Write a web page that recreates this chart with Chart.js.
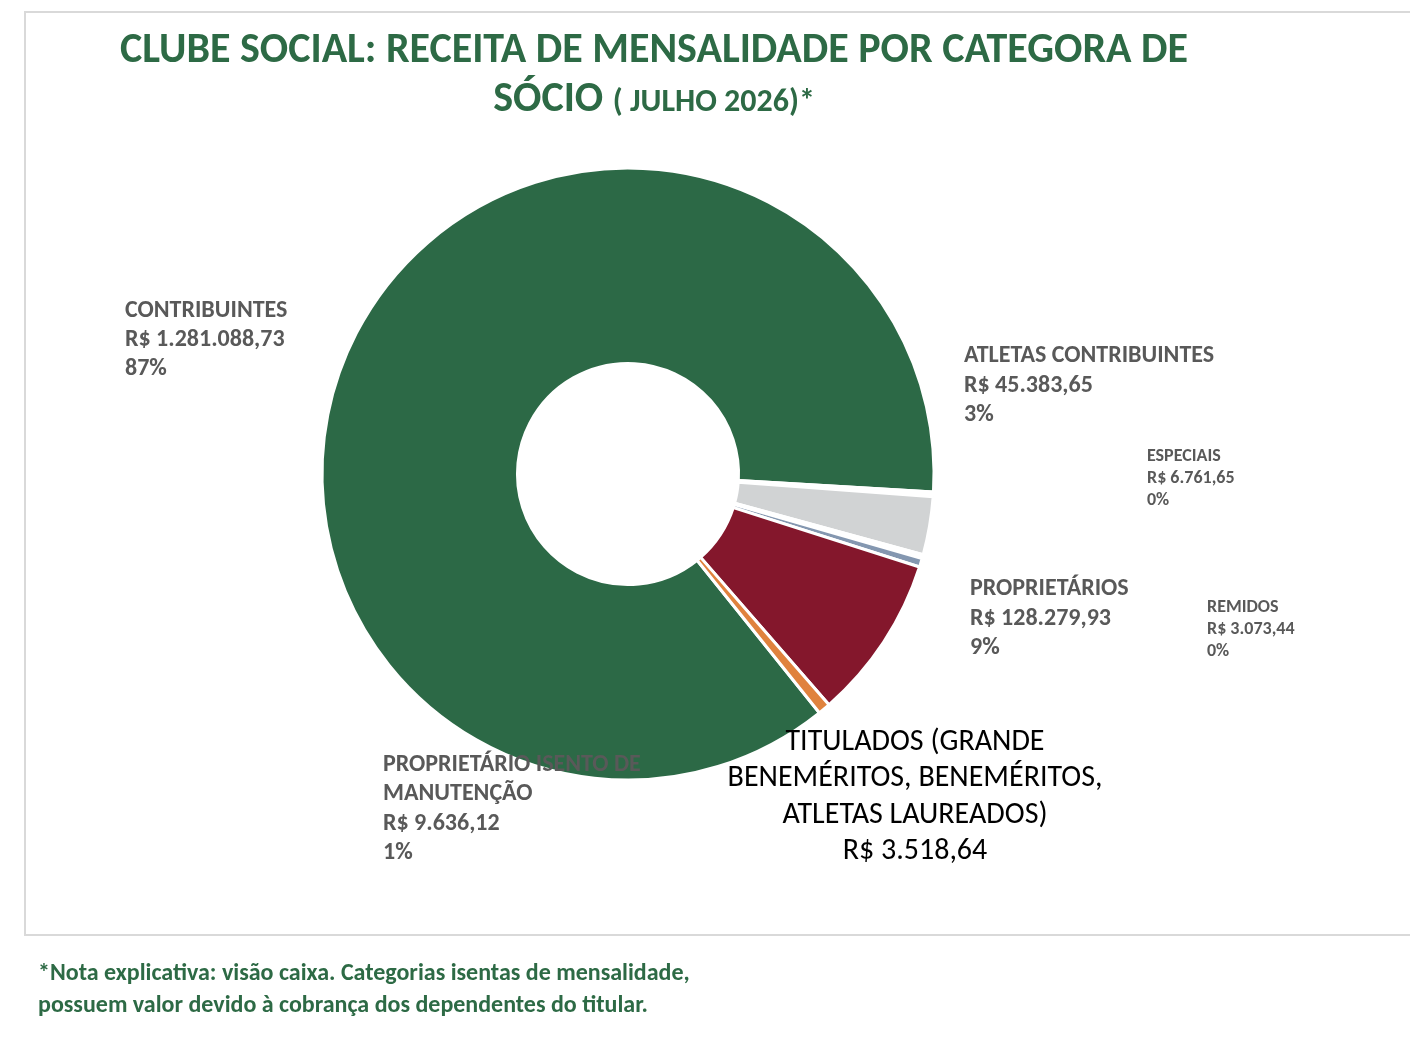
<!DOCTYPE html>
<html lang="pt-BR">
<head>
<meta charset="utf-8">
<title>Receita de mensalidade por categoria de sócio</title>
<script src="https://cdn.jsdelivr.net/npm/chart.js@4.4.1/dist/chart.umd.min.js"></script>
<style>
  html, body { margin: 0; padding: 0; background: #fff; }
  body { width: 1410px; height: 1058px; position: relative; overflow: hidden;
         font-family: "Carlito", "Lato", sans-serif; }
  #box { position: absolute; left: 24px; top: 11px; width: 1400px; height: 921px;
         border: 2px solid #d9d9d9; }
  #chart { position: absolute; left: 0; top: 0; }
  .titulo { position: absolute; left: 0; width: 1308px; text-align: center;
            color: #2d6a45; font-weight: bold; white-space: nowrap; }
  #t1 { top: 24px; font-size: 42px; line-height: 48px; }
  #t2 { top: 73px; font-size: 42px; line-height: 48px; }
  #t2 small { font-size: 32px; }
  #nota { position: absolute; left: 38px; top: 956px; color: #2d6a45; font-weight: bold;
          font-size: 24px; line-height: 32px; }
</style>
</head>
<body>
<div id="box"></div>
<canvas id="chart" width="1410" height="1058"></canvas>
<div class="titulo" id="t1">CLUBE SOCIAL: RECEITA DE MENSALIDADE POR CATEGORA DE</div>
<div class="titulo" id="t2">SÓCIO <small>( JULHO 2026)*</small></div>
<div id="nota">*Nota explicativa: visão caixa. Categorias isentas de mensalidade,<br>possuem valor devido à cobrança dos dependentes do titular.</div>
<script>
// categorias na ordem em que aparecem no anel (sentido horário)
const categorias = [
  ["CONTRIBUINTES"],
  ["TITULADOS (GRANDE", "BENEMÉRITOS, BENEMÉRITOS,", "ATLETAS LAUREADOS)"],
  ["ATLETAS CONTRIBUINTES"],
  ["REMIDOS"],
  ["ESPECIAIS"],
  ["PROPRIETÁRIOS"],
  ["PROPRIETÁRIO ISENTO DE", "MANUTENÇÃO"]
];
const receitas = [1281088.73, 3518.64, 45383.65, 3073.44, 6761.65, 128279.93, 9636.12];
const mostraPercentual = [true, false, true, true, true, true, true];
const cores = ["#2c6946", "#ffffff", "#d1d3d4", "#ffffff", "#8497b0", "#84172c", "#e0823d"];

// onde cada rótulo fica (arrastado à mão no original)
const rotulos = [
  { x: 125,  y: 311, gap: 29,   size: 24, align: "left",   color: "#595959", weight: "bold" },
  { x: 915,  y: 742, gap: 36.6, size: 30, align: "center", color: "#000000", weight: "normal" },
  { x: 964,  y: 356, gap: 29.5, size: 24, align: "left",   color: "#595959", weight: "bold" },
  { x: 1207, y: 607, gap: 22,   size: 18, align: "left",   color: "#595959", weight: "bold" },
  { x: 1147, y: 456, gap: 22,   size: 18, align: "left",   color: "#595959", weight: "bold" },
  { x: 970,  y: 589, gap: 29.5, size: 24, align: "left",   color: "#595959", weight: "bold" },
  { x: 383,  y: 765, gap: 29.3, size: 24, align: "left",   color: "#595959", weight: "bold" }
];

const FONTE = '"Carlito", "Lato", sans-serif';

function reais(v) {
  const [int, dec] = v.toFixed(2).split(".");
  return "R$ " + int.replace(/\B(?=(\d{3})+(?!\d))/g, ".") + "," + dec;
}

const rotulosPlugin = {
  id: "rotulos",
  afterDatasetsDraw(chart) {
    const ctx = chart.ctx;
    const dados = chart.data.datasets[0].data;
    const total = dados.reduce((a, b) => a + b, 0);
    ctx.save();
    ctx.textBaseline = "middle";
    chart.data.labels.forEach((nome, i) => {
      const r = rotulos[i];
      const linhas = nome.concat([reais(dados[i])]);
      if (mostraPercentual[i]) linhas.push(Math.round(dados[i] / total * 100) + "%");
      ctx.font = r.weight + " " + r.size + "px " + FONTE;
      ctx.fillStyle = r.color;
      ctx.textAlign = r.align;
      linhas.forEach((txt, k) => ctx.fillText(txt, r.x, r.y + k * r.gap));
    });
    ctx.restore();
  }
};

new Chart(document.getElementById("chart"), {
  type: "doughnut",
  data: {
    labels: categorias,
    datasets: [{
      data: receitas,
      backgroundColor: cores,
      borderColor: "#ffffff",
      borderWidth: 3,
      hoverOffset: 0
    }]
  },
  options: {
    responsive: false,
    animation: false,
    rotation: 141.3,
    radius: 306,
    cutout: 110,
    layout: { padding: { left: 322, right: 476, top: 168, bottom: 278 } },
    plugins: {
      legend: { display: false },
      tooltip: { enabled: false }
    }
  },
  plugins: [rotulosPlugin]
});
</script>
</body>
</html>
